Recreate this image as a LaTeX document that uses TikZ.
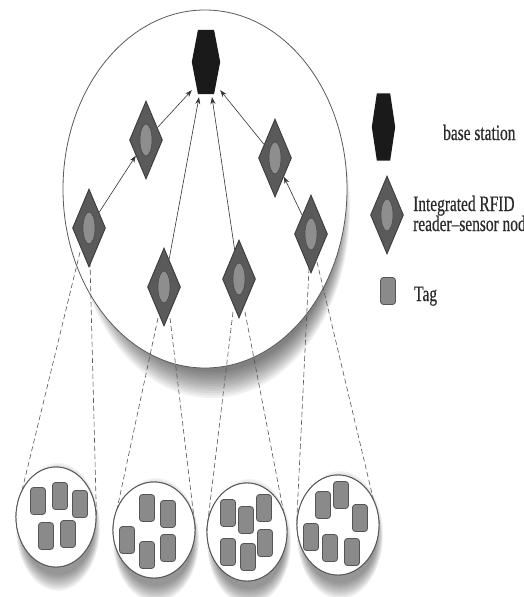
\documentclass[tikz,border=0pt]{standalone}
\usepackage{fontspec}
\setmainfont{Liberation Serif}[FakeStretch=0.7,FakeBold=0.5]
\usetikzlibrary{shapes.geometric,arrows.meta}
\definecolor{edgegray}{HTML}{5A5A5A}
\definecolor{bsfill}{HTML}{1A1A1A}
\definecolor{dfill}{HTML}{5A5A5A}
\definecolor{dline}{HTML}{3C3C3C}
\definecolor{ifill}{HTML}{8E8E8E}
\definecolor{iline}{HTML}{4A4A4A}
\definecolor{tfill}{HTML}{8A8A8A}
\definecolor{tline}{HTML}{555555}
\definecolor{agray}{HTML}{333333}
\definecolor{txt}{HTML}{2A2A2A}
\newcommand\hexnode[4]{%
  \node[inner sep=0pt,minimum width=#3,minimum height=#4] (#1) at #2 {};
  \fill[bsfill] ([xshift=0.22*#3]#1.north west) -- ([xshift=-0.22*#3]#1.north east)
    -- (#1.east) -- ([xshift=-0.22*#3]#1.south east) -- ([xshift=0.22*#3]#1.south west)
    -- (#1.west) -- cycle;}
\newcommand\readernode[2]{%
  \node[readerbox] (#1) at #2 {};
  \node[innerell] (#1i) at #2 {};}
\newcommand\softshadow[7]{% cx cy rx ry growx growy opacity
  \foreach \i in {0,...,11}{%
    \fill[black,opacity=#7] (#1,#2) ellipse [x radius={(#3+#5*(11-\i)/11)*1pt}, y radius={(#4+#6*(11-\i)/11)*1pt}];}}
\begin{document}
\begin{tikzpicture}[x=1pt,y=-1pt,
  bigell/.style={ellipse,draw=edgegray,line width=0.8pt,fill=white,minimum width=284pt,minimum height=358pt,inner sep=0pt},
  smallell/.style={ellipse,draw=tline,line width=0.9pt,fill=white,inner sep=0pt},
  readerbox/.style={diamond,draw=dline,fill=dfill,line width=0.9pt,minimum width=33pt,minimum height=78pt,inner sep=0pt},
  innerell/.style={ellipse,draw=iline,fill=ifill,line width=0.6pt,minimum width=12pt,minimum height=32pt,inner sep=0pt},
  tag/.style={rectangle,rounded corners=3pt,draw=tline,fill=tfill,line width=0.8pt,minimum width=15pt,minimum height=27pt,inner sep=0pt},
  arr/.style={draw=agray,line width=0.6pt,-{Stealth[length=7pt,width=5pt]}},
  dashline/.style={draw=tline,line width=0.6pt,dash pattern=on 5pt off 3pt},
  legtext/.style={text=txt,font=\fontsize{22}{20}\selectfont,inner sep=0pt,anchor=base west}]
\useasboundingbox (0,0) rectangle (523,597);
% shadows
\softshadow{212}{208}{128}{164}{10}{26}{0.055}
\softshadow{58}{527}{36}{48}{6}{16}{0.045}
\softshadow{156}{540}{37}{46}{6}{16}{0.045}
\softshadow{249}{542}{36}{47}{6}{16}{0.045}
\softshadow{340}{535}{37}{48}{6}{16}{0.045}
% network ellipse
\node[bigell] (net) at (205,189) {};
% small ellipses (named now, drawn later)
\node[smallell,minimum width=80pt,minimum height=100pt] (e1) at (56,517) {};
\node[smallell,minimum width=82pt,minimum height=96pt] (e2) at (154,530) {};
\node[smallell,minimum width=80pt,minimum height=98pt] (e3) at (247,532) {};
\node[smallell,minimum width=82pt,minimum height=100pt] (e4) at (338,525) {};
% dashed projection lines
\coordinate (a1) at (80,252); \coordinate (b1) at (90,262);
\coordinate (a2) at (158,318); \coordinate (b2) at (170,318);
\coordinate (a3) at (233,312); \coordinate (b3) at (245,312);
\coordinate (a4) at (309,268); \coordinate (b4) at (317,262);
\draw[dashline] (a1) -- (e1.west);
\draw[dashline] (b1) -- (e1.east);
\draw[dashline] (a2) -- (e2.west);
\draw[dashline] (b2) -- (e2.east);
\draw[dashline] (a3) -- (e3.west);
\draw[dashline] (b3) -- (e3.east);
\draw[dashline] (a4) -- (e4.west);
\draw[dashline] (b4) -- (e4.east);
% redraw small ellipses on top
\node[smallell,minimum width=80pt,minimum height=100pt] (e1b) at (56,517) {};
\node[smallell,minimum width=82pt,minimum height=96pt] (e2b) at (154,530) {};
\node[smallell,minimum width=80pt,minimum height=98pt] (e3b) at (247,532) {};
\node[smallell,minimum width=82pt,minimum height=100pt] (e4b) at (338,525) {};
% base station
\hexnode{bs}{(206,62)}{28pt}{64pt}
% readers
\readernode{d1}{(146,140)}
\readernode{d2}{(89,228)}
\readernode{d3}{(164,287)}
\readernode{d4}{(239,279)}
\readernode{d5}{(275,158)}
\readernode{d6}{(311,234)}
% arrows
\draw[arr] (d2) -- (d1);
\draw[arr] (d1) -- ([yshift=4pt]bs.south west);
\draw[arr] (d3) -- ([xshift=-7pt,yshift=-3pt]bs.south);
\draw[arr] (d4) -- ([xshift=6pt,yshift=-3pt]bs.south);
\draw[arr] (d5) -- ([yshift=4pt]bs.south east);
\draw[arr] (d6) -- (d5);
% tags
\foreach \n/\p in {t11/{(38,501)},t12/{(60,496)},t13/{(80,504)},t14/{(46,536)},t15/{(68,534)},
  t21/{(147,508)},t22/{(168,514)},t23/{(127,540)},t24/{(147,555)},t25/{(168,548)},
  t31/{(228,513)},t32/{(246,520)},t33/{(264,508)},t34/{(228,552)},t35/{(248,557)},t36/{(265,543)},
  t41/{(323,505)},t42/{(341,495)},t43/{(360,518)},t44/{(311,537)},t45/{(330,548)},t46/{(352,552)}}
  \node[tag] (\n) at \p {};
% legend
\hexnode{lbs}{(383.5,127)}{23pt}{67pt}
\node[legtext] (lbst) at (443,140) {base station};
\readernode{ld}{(387,215)}
\node[legtext] (ldt1) at (413,211) {Integrated RFID};
\node[legtext] (ldt2) at (413,231) {reader–sensor node};
\node[tag] (lt) at (388,291) {};
\node[legtext] (ltt) at (414,301) {Tag};
\end{tikzpicture}
\end{document}
